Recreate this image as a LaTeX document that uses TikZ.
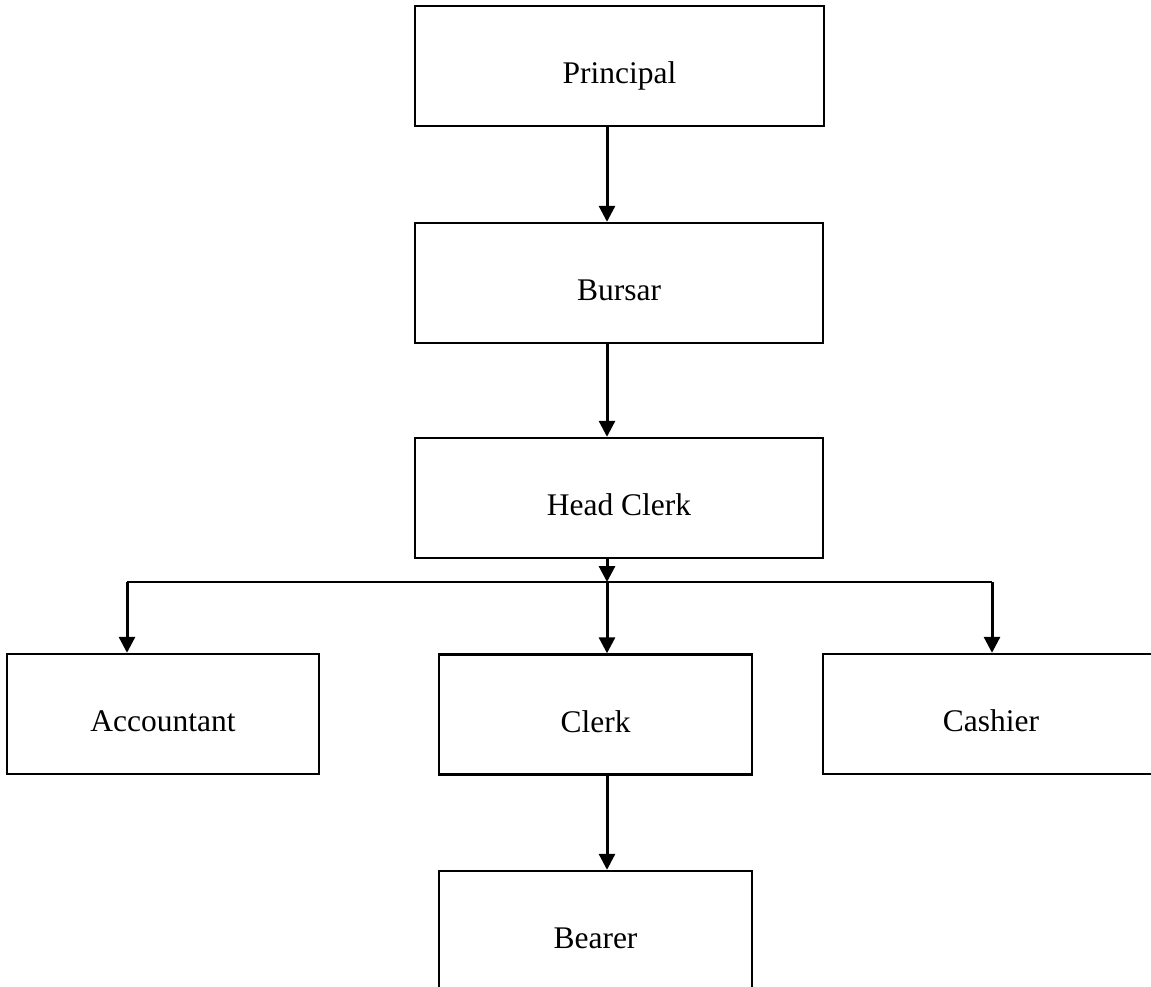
\documentclass[tikz,border=0pt]{standalone}
\usepackage{fontspec}
\setmainfont{Liberation Serif}
\usetikzlibrary{arrows.meta}
\begin{document}
\begin{tikzpicture}[x=1pt,y=-1pt,
  box/.style={draw=black, line width=2.4pt, fill=white, inner sep=0pt,
    font=\fontsize{31.5}{37}\selectfont, text height=35pt, text depth=0pt,
    minimum width=#1, minimum height=120pt},
  box/.default=408pt,
  conn/.style={line width=3pt, -{Triangle[length=16pt,width=16pt]}},
  bar/.style={line width=2.4pt}]
\useasboundingbox (0,0) rectangle (1151,986);
\clip (0,0) rectangle (1151,986);
\node[box=409pt] (principal) at (619.5,66) {Principal};
\node[box] (bursar) at (619,283) {Bursar};
\node[box] (head) at (619,498) {Head Clerk};
\node[box=312pt] (accountant) at (163,714) {Accountant};
\node[box=313pt] (clerk) at (595.5,714.5) {Clerk};
\node[box=336pt] (cashier) at (991,714) {Cashier};
\node[box=313pt] (bearer) at (595.5,931) {Bearer};
\coordinate (spine) at (607,0);
\coordinate (barL) at (127,582);
\coordinate (barM) at (607,582);
\coordinate (barR) at (992,582);
\draw[conn] (principal.south -| spine) -- (bursar.north -| spine);
\draw[conn] (bursar.south -| spine) -- (head.north -| spine);
\draw[bar] (barL) -- (barR);
\draw[conn] (head.south -| spine) -- (barM);
\draw[conn] (barL) -- (accountant.north -| barL);
\draw[conn] (barM) -- (clerk.north -| barM);
\draw[conn] (barR) -- (cashier.north -| barR);
\draw[conn] (clerk.south -| spine) -- (bearer.north -| spine);
\end{tikzpicture}
\end{document}
